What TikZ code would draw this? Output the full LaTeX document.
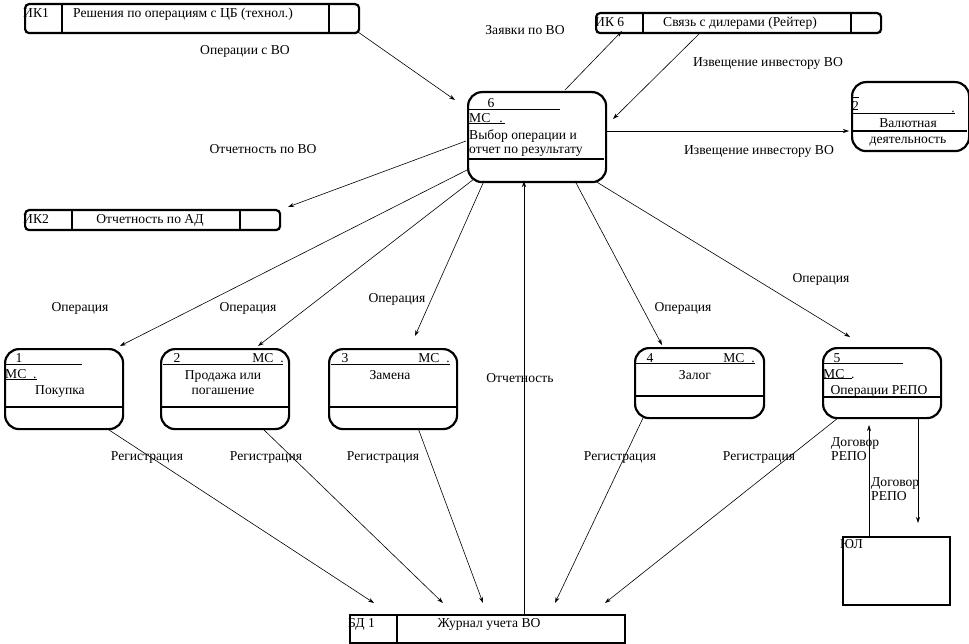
\documentclass[tikz,border=0pt]{standalone}
\usepackage{fontspec}
\setmainfont{Liberation Serif}
\usetikzlibrary{arrows.meta}
\tikzset{
  bloc/.style={draw, line width=2.2pt, rounded corners=14pt, anchor=north west, inner sep=0pt},
  stock/.style={draw, line width=2.2pt, rounded corners=4pt, anchor=north west, inner sep=0pt},
  cadre/.style={draw, line width=2.2pt, anchor=north west, inner sep=0pt},
  sep/.style={line width=1.6pt},
  trait/.style={line width=0.6pt},
  fleche/.style={-{Stealth[length=6pt,width=4pt]}, line width=0.6pt},
  etiq/.style={font=\fontsize{13.6}{14}\selectfont, inner sep=0pt, text height=12pt, text depth=0pt},
  etiq2/.style={font=\fontsize{13.6}{14}\selectfont, inner sep=0pt, anchor=north west, align=left},
}
\begin{document}
\begin{tikzpicture}[x=1pt,y=-1pt]
  \useasboundingbox (0,0) rectangle (969,644);

  % Stocks de donnees
  \node[stock, minimum width=334pt, minimum height=29pt] (ik1) at (24,3) {};
  \draw[sep] (62,3) -- (62,32);
  \draw[sep] (329,3) -- (329,32);
  \node[etiq, anchor=west] (ik1n) at (23,12) {ИК1};
  \node[etiq, anchor=west] (ik1t) at (73,12) {Решения по операциям с ЦБ (технол.)};

  \node[stock, minimum width=285pt, minimum height=20pt] (ik6) at (595,12) {};
  \draw[sep] (643,12) -- (643,32);
  \draw[sep] (851,12) -- (851,32);
  \node[etiq, anchor=west] (ik6n) at (595,21) {ИК 6};
  \node[etiq] (ik6t) at (740,21) {Связь с дилерами (Рейтер)};

  \node[stock, minimum width=255pt, minimum height=20pt] (ik2) at (24,209) {};
  \draw[sep] (72,209) -- (72,229);
  \draw[sep] (240,209) -- (240,229);
  \node[etiq, anchor=west] (ik2n) at (23,218) {ИК2};
  \node[etiq] (ik2t) at (150,218) {Отчетность по АД};

  \node[cadre, minimum width=275pt, minimum height=28pt] (bd1) at (349,614) {};
  \draw[sep] (397,614) -- (397,642);
  \node[etiq, anchor=west] (bd1n) at (348,621) {БД 1};
  \node[etiq] (bd1t) at (489,621) {Журнал учета ВО};

  % Processus central
  \node[bloc, minimum width=138pt, minimum height=90pt] (p6) at (467,91) {};
  \draw[sep] (467,159) -- (604,159);
  \node[etiq] (p6n) at (491,102) {6};
  \draw[trait] (469,109) -- (560,109);
  \node[etiq, anchor=west] (p6m) at (469,117) {МС\hspace{9pt}.};
  \draw[trait] (469,123) -- (505,123);
  \node[etiq, anchor=west] (p6a) at (469,134) {Выбор операции и};
  \node[etiq, anchor=west] (p6b) at (469,148) {отчет по результату};

  % Valutnaya deyatelnost
  \node[bloc, minimum width=117pt, minimum height=69pt] (p2v) at (851,81) {};
  \draw[sep] (851,131) -- (967,131);
  \draw[trait] (853,97) -- (859,97);
  \node[etiq, anchor=west] (p2vn) at (852,105) {2};
  \draw[trait] (853,113) -- (955,113);
  \node[etiq] (p2vp) at (953,107) {.};
  \node[etiq] (p2va) at (908,122) {Валютная};
  \node[etiq] (p2vb) at (908,138) {деятельность};

  % Processus de la rangee basse
  \node[bloc, minimum width=118pt, minimum height=80pt] (p1) at (4,348) {};
  \draw[sep] (4,407) -- (122,407);
  \node[etiq] (p1n) at (19,356) {1};
  \draw[trait] (5,364) -- (82,364);
  \node[etiq, anchor=west] (p1m) at (5,372) {МС\enspace.};
  \draw[trait] (5,379) -- (37,379);
  \node[etiq] (p1t) at (60,388) {Покупка};

  \node[bloc, minimum width=128pt, minimum height=80pt] (p2) at (160,348) {};
  \draw[sep] (160,407) -- (288,407);
  \node[etiq] (p2n) at (177,356) {2};
  \node[etiq] (p2m) at (268,356) {МС\enspace.};
  \draw[trait] (163,364) -- (283,364);
  \node[etiq] (p2a) at (223,373) {Продажа или};
  \node[etiq] (p2b) at (223,388) {погашение};

  \node[bloc, minimum width=128pt, minimum height=80pt] (p3) at (328,348) {};
  \draw[sep] (328,407) -- (456,407);
  \node[etiq] (p3n) at (345,356) {3};
  \node[etiq] (p3m) at (434,356) {МС\enspace.};
  \draw[trait] (331,364) -- (450,364);
  \node[etiq] (p3t) at (390,373) {Замена};

  \node[bloc, minimum width=129pt, minimum height=70pt] (p4) at (634,347) {};
  \draw[sep] (634,396) -- (763,396);
  \node[etiq] (p4n) at (650,356) {4};
  \node[etiq] (p4m) at (739,356) {МС\enspace.};
  \draw[trait] (636,363) -- (755,363);
  \node[etiq] (p4t) at (695,373) {Залог};

  \node[bloc, minimum width=118pt, minimum height=70pt] (p5) at (822,347) {};
  \draw[sep] (822,397) -- (940,397);
  \node[etiq] (p5n) at (837,356) {5};
  \draw[trait] (823,363) -- (903,363);
  \node[etiq, anchor=west] (p5m) at (823,372) {МС\enspace.};
  \draw[trait] (823,378) -- (852,378);
  \node[etiq] (p5t) at (879,388) {Операции РЕПО};

  % Entite externe
  \node[cadre, minimum width=107pt, minimum height=68pt] (yul) at (842,536) {};
  \node[etiq, anchor=west] (yuln) at (840,542) {ЮЛ};

  % Points d'accroche
  \coordinate (c1) at (358,32);   \coordinate (c2) at (455,100);
  \coordinate (c3) at (565,90);   \coordinate (c4) at (622,31);
  \coordinate (c5) at (700,33);   \coordinate (c6) at (613,119);
  \coordinate (c7) at (605,131);  \coordinate (c8) at (849,131);
  \coordinate (c9) at (466,141);  \coordinate (c10) at (288,207);
  \coordinate (d1) at (467,170);  \coordinate (e1) at (120,346);
  \coordinate (d2) at (474,179);  \coordinate (e2) at (258,346);
  \coordinate (d3) at (484,181);  \coordinate (e3) at (415,336);
  \coordinate (d4) at (575,181);  \coordinate (e4) at (662,345);
  \coordinate (d5) at (595,181);  \coordinate (e5) at (850,337);
  \coordinate (r1) at (106,428);  \coordinate (s1) at (374,603);
  \coordinate (r2) at (262,428);  \coordinate (s2) at (443,603);
  \coordinate (r3) at (418,428);  \coordinate (s3) at (483,603);
  \coordinate (r4) at (643,418);  \coordinate (s4) at (555,603);
  \coordinate (r5) at (838,418);  \coordinate (s5) at (605,603);
  \coordinate (u1) at (524,614);  \coordinate (u2) at (524,181);
  \coordinate (y1) at (869,536);  \coordinate (y2) at (869,425);
  \coordinate (y3) at (918,418);  \coordinate (y4) at (918,523);

  % Flux
  \draw[fleche] (c1) -- (c2);
  \draw[fleche] (c3) -- (c4);
  \draw[fleche] (c5) -- (c6);
  \draw[fleche] (c7) -- (c8);
  \draw[fleche] (c9) -- (c10);
  \foreach \i in {1,...,5} {
    \draw[fleche] (d\i) -- (e\i);
    \draw[fleche] (r\i) -- (s\i);
  }
  \draw[fleche] (u1) -- (u2);
  \draw[fleche] (y1) -- (y2);
  \draw[fleche] (y3) -- (y4);

  % Libelles des flux
  \node[etiq] (l1) at (245,49) {Операции с ВО};
  \node[etiq] (l2) at (525,29) {Заявки по ВО};
  \node[etiq] (l3) at (768,61) {Извещение инвестору ВО};
  \node[etiq] (l4) at (759,149) {Извещение инвестору ВО};
  \node[etiq] (l5) at (263,148) {Отчетность по ВО};
  \node[etiq] (o1) at (80,306) {Операция};
  \node[etiq] (o2) at (248,306) {Операция};
  \node[etiq] (o3) at (397,297) {Операция};
  \node[etiq] (o4) at (683,306) {Операция};
  \node[etiq] (o5) at (821,277) {Операция};
  \node[etiq] (l6) at (520,376) {Отчетность};
  \foreach \x/\n in {147/g1, 266/g2, 383/g3, 620/g4, 759/g5}
    \node[etiq] (\n) at (\x,454) {Регистрация};
  \node[etiq2] (dr1) at (831,437) {Договор\\РЕПО};
  \node[etiq2] (dr2) at (871,477) {Договор\\РЕПО};
\end{tikzpicture}
\end{document}
